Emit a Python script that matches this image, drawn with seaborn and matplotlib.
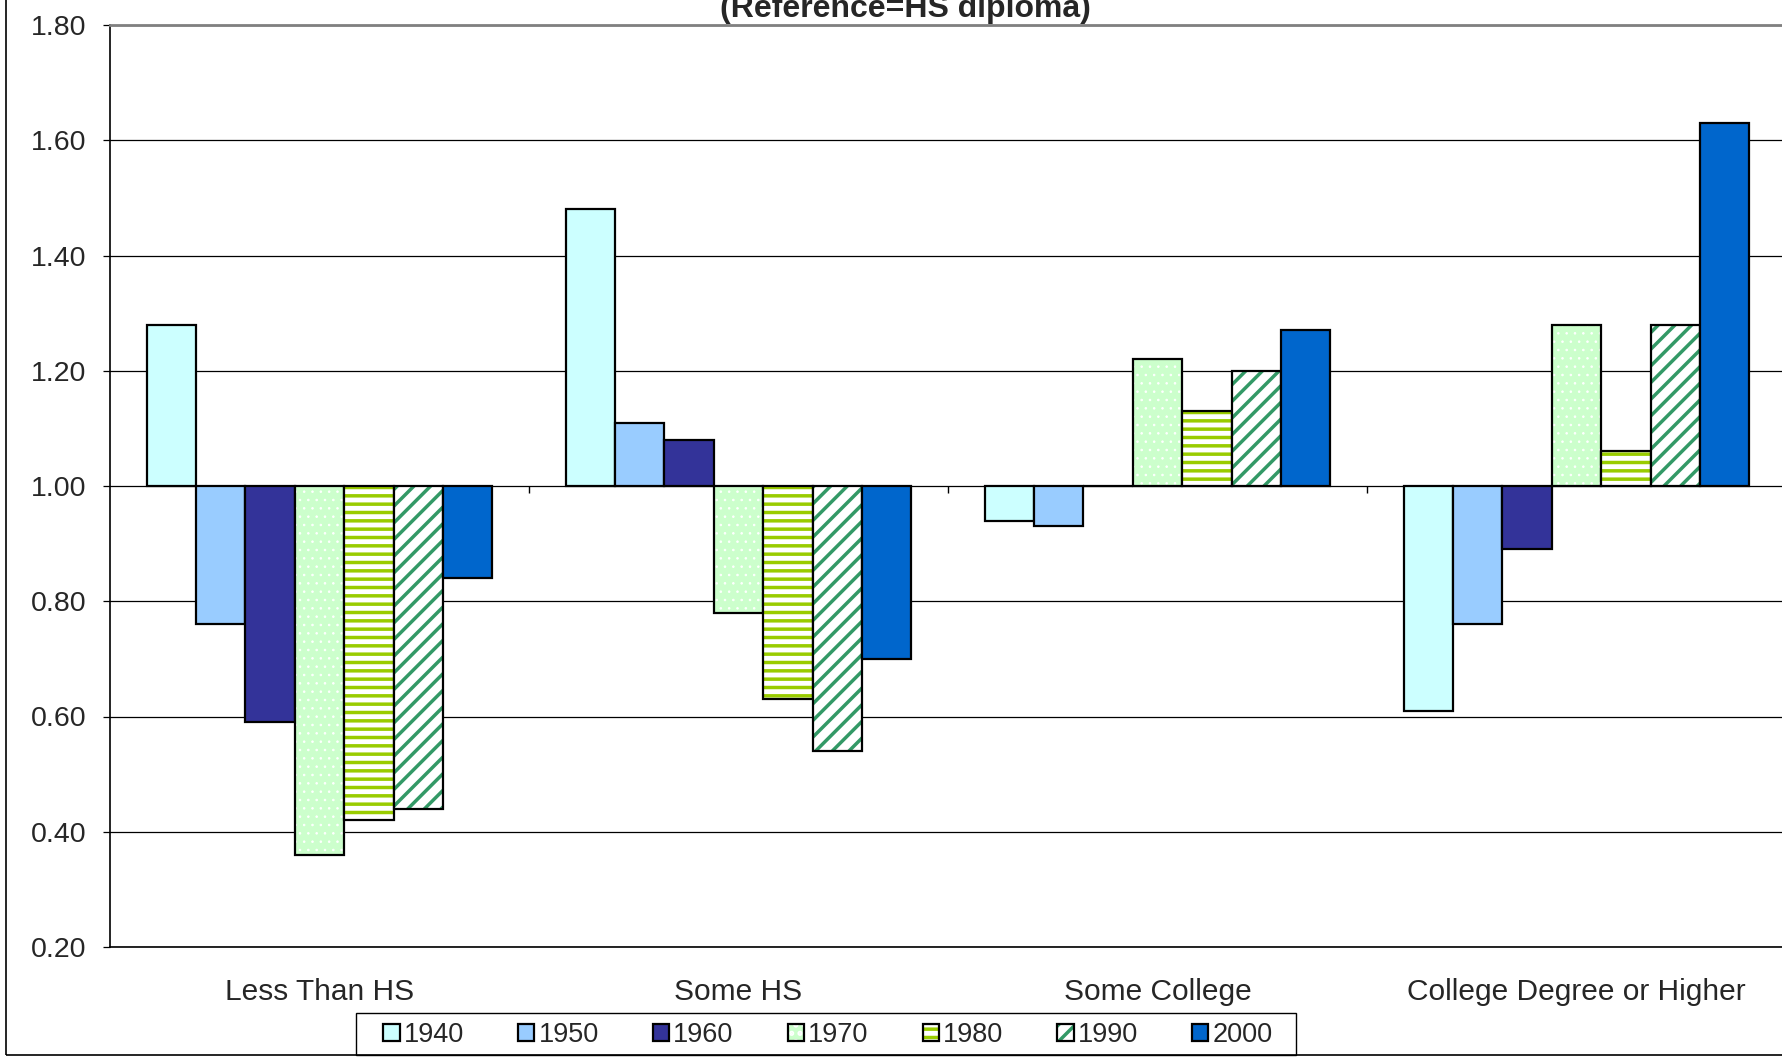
import pandas as pd
import numpy as np
import seaborn as sns
import matplotlib.pyplot as plt
from matplotlib.colors import to_rgba
from matplotlib.patches import Patch, Rectangle

# data (ratio, bars start at 1.00)
categories = ['Less Than HS', 'Some HS', 'Some College', 'College Degree or Higher']
years = ['1940', '1950', '1960', '1970', '1980', '1990', '2000']
v1940 = [1.28, 1.48, 0.94, 0.61]
v1950 = [0.76, 1.11, 0.93, 0.76]
v1960 = [0.59, 1.08, 1.00, 0.89]
v1970 = [0.36, 0.78, 1.22, 1.28]
v1980 = [0.42, 0.63, 1.13, 1.06]
v1990 = [0.44, 0.54, 1.20, 1.28]
v2000 = [0.84, 0.70, 1.27, 1.63]
yticks = [0.20, 0.40, 0.60, 0.80, 1.00, 1.20, 1.40, 1.60, 1.80]

series = [v1940, v1950, v1960, v1970, v1980, v1990, v2000]
df = pd.DataFrame([(c, y, s[i]) for y, s in zip(years, series)
                   for i, c in enumerate(categories)],
                  columns=['category', 'year', 'value'])

# styles: facecolor, hatch, hatch colour
styles = {
    '1940': ('#CCFFFF', None, None),
    '1950': ('#99CCFF', None, None),
    '1960': ('#333399', None, None),
    '1970': ('#CCFFCC', '..', '#FFFFFF'),
    '1980': ('#FFFFFF', '--', '#99CC00'),
    '1990': ('#FFFFFF', '//', '#339966'),
    '2000': ('#0066CC', None, None),
}

sns.set_style('white')
plt.rcParams['font.family'] = ['Liberation Sans', 'DejaVu Sans']
plt.rcParams['hatch.linewidth'] = 2.5


def style_patch(p, year):
    fc, hatch, hc = styles[year]
    p.set_facecolor(fc)
    p.set_edgecolor('black')
    p.set_linewidth(1.6)
    if hatch:
        p.set_hatch(hatch)
        try:
            p.set_hatchcolor(hc)
        except AttributeError:
            p._hatch_color = to_rgba(hc)
        if hatch == '..':
            try:
                p.set_hatch_linewidth(0.6)
            except AttributeError:
                pass


fig = plt.figure(figsize=(17.83, 10.58), dpi=100)
ax = fig.add_axes([110 / 1783, 1 - 947 / 1058, 1676 / 1783, 922 / 1058])

sns.barplot(data=df, x='category', y='value', hue='year', order=categories,
            hue_order=years, width=0.825, ax=ax, legend=False, zorder=3)

# bars hang from the 1.00 line
for year, cont in zip(years, ax.containers):
    for p in cont.patches:
        h = p.get_height()
        p.set_y(1.0)
        p.set_height(h - 1.0)
        style_patch(p, year)

ax.set_xlim(-0.5, 3.5)
ax.set_ylim(0.2, 1.8)
ax.set_yticks(yticks)
ax.set_yticklabels([f'{t:.2f}' for t in yticks], fontsize=20.5)
ax.yaxis.grid(True, color='black', linewidth=0.9, zorder=0)
ax.set_axisbelow(True)
ax.tick_params(axis='y', left=True, length=5, width=0.9, pad=12, color='black')
ax.tick_params(axis='x', length=0, pad=22.5, labelsize=21.5)
ax.set_xlabel('')
ax.set_ylabel('')

for s in ['left', 'bottom']:
    ax.spines[s].set_color('black')
    ax.spines[s].set_linewidth(1.2)
ax.spines['top'].set_color('#808080')
ax.spines['top'].set_linewidth(2)
ax.spines['right'].set_visible(False)

# category boundary ticks on the 1.00 line
ax.vlines([0.5, 1.5, 2.5], 0.988, 1.0, color='black', linewidth=1, zorder=4)

# title (top line cut off in the original)
fig.text(905 / 1783, 1 - 17 / 1058, '(Reference=HS diploma)', ha='center',
         va='baseline', fontsize=23, fontweight='bold')

# outer chart border
fig.add_artist(Rectangle((6 / 1783, 3 / 1058), 1.2, 1.2, transform=fig.transFigure,
                         fill=False, edgecolor='black', linewidth=1.2))

handles = []
for year in years:
    h = Patch(label=year)
    style_patch(h, year)
    handles.append(h)
leg = fig.legend(handles=handles, loc='lower center', ncol=7,
                 bbox_to_anchor=(828 / 1783, 1.5 / 1058), bbox_transform=fig.transFigure,
                 borderaxespad=0, fontsize=19.5, frameon=False,
                 handlelength=0.6, handleheight=0.6, handletextpad=0.15,
                 columnspacing=2.0, borderpad=0.3)
# legend box
fig.add_artist(Rectangle((356 / 1783, 3 / 1058), 940 / 1783, 42 / 1058,
                         transform=fig.transFigure, fill=False,
                         edgecolor='black', linewidth=1.0))

fig.savefig('out.png', dpi=100)
